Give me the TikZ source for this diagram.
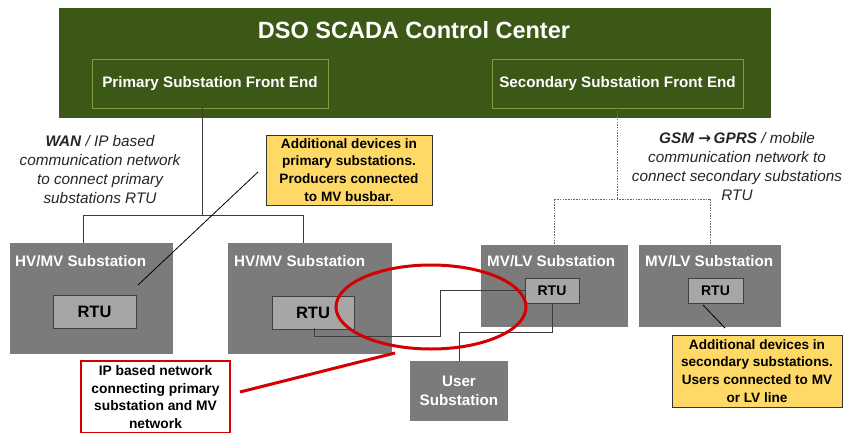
\documentclass[tikz,border=0pt]{standalone}
\usepackage{fontspec}
\setmainfont{Liberation Sans}
\newfontfamily\djv{DejaVu Sans}
\definecolor{cgreen}{RGB}{60,88,22}
\definecolor{cgreenline}{RGB}{120,160,60}
\definecolor{cgray}{RGB}{123,123,123}
\definecolor{crtu}{RGB}{166,166,166}
\definecolor{cyellow}{RGB}{255,217,102}
\definecolor{cred}{RGB}{210,0,0}
\definecolor{cwire}{RGB}{60,60,60}
\begin{document}
\begin{tikzpicture}[x=1pt,y=-1pt,
  box/.style={anchor=north west,inner sep=0pt,outer sep=0pt},
  grn/.style={box,fill=cgreen},
  fe/.style={box,draw=cgreenline,line width=0.8pt},
  fet/.style={text=white,inner sep=0pt,font=\fontsize{15.2}{17}\selectfont\bfseries},
  sub/.style={box,fill=cgray},
  subl/.style={anchor=west,inner sep=0pt,text=white,font=\fontsize{15.2}{17}\selectfont\bfseries},
  rtu/.style={box,fill=crtu,draw=black!75,line width=0.6pt,font=\fontsize{16.5}{18}\selectfont\bfseries},
  srtu/.style={rtu,font=\fontsize{14}{16}\selectfont\bfseries},
  note/.style={box,fill=cyellow,draw=black!80,line width=0.8pt,align=center,font=\fontsize{13.6}{17.8}\selectfont\bfseries},
  ital/.style={align=center,inner sep=0pt,font=\fontsize{15.3}{19}\selectfont\itshape,text=black!85},
  wire/.style={draw=cwire,line width=0.6pt},
  dwire/.style={draw=black!60,line width=0.7pt,dash pattern=on 1.5pt off 1.2pt}
]
\useasboundingbox (0,0) rectangle (845,433);
\fill[white] (0,0) rectangle (845,433);

% control center
\node[grn,minimum width=712pt,minimum height=110pt] (cc) at (59,8) {};
\node[text=white,font=\fontsize{23.5}{26}\selectfont\bfseries] (title) at (414,30) {DSO SCADA Control Center};
\node[fe,minimum width=236pt,minimum height=49pt] (pfe) at (92,59) {};
\node[fet] (pfet) at (pfe.center) {Primary Substation Front End};
\node[fe,minimum width=251pt,minimum height=49pt] (sfe) at (492,59) {};
\node[fet] (sfet) at (sfe.center) {Secondary Substation Front End};

% substations
\node[sub,minimum width=163pt,minimum height=111pt] (hv1) at (10,243) {};
\node[subl] (hv1l) at (15,261) {HV/MV Substation};
\node[rtu,minimum width=83pt,minimum height=33pt] (r1) at (53,295) {RTU};

\node[sub,minimum width=164pt,minimum height=111pt] (hv2) at (228,243) {};
\node[subl] (hv2l) at (234,261) {HV/MV Substation};
\node[rtu,minimum width=82pt,minimum height=33pt] (r2) at (272,296) {RTU};

\node[sub,minimum width=147pt,minimum height=82pt] (mv1) at (481,245) {};
\node[subl] (mv1l) at (487,261) {MV/LV Substation};
\node[srtu,minimum width=54pt,minimum height=25pt] (r3) at (525,278) {RTU};

\node[sub,minimum width=142pt,minimum height=82pt] (mv2) at (639,245) {};
\node[subl] (mv2l) at (645,261) {MV/LV Substation};
\node[srtu,minimum width=55pt,minimum height=25pt] (r4) at (688,278) {RTU};

\node[sub,minimum width=98pt,minimum height=60pt,align=center,text=white,font=\fontsize{15.2}{19}\selectfont\bfseries] (us) at (410,361) {User\\Substation};

% WAN tree
\coordinate (p0) at (202,108);
\coordinate (pj) at (202,215);
\coordinate (pl) at (83,215);
\coordinate (pr) at (303,215);
\draw[wire] (p0) -- (pj);
\draw[wire] (pl) -- (pr);
\draw[wire] (pl) -- (pl |- hv1.north);
\draw[wire] (pr) -- (pr |- hv2.north);

% GSM tree
\coordinate (s0) at (617,108);
\coordinate (sj) at (617,199);
\coordinate (sl) at (mv1.north |- sj);
\coordinate (sr) at (mv2.north |- sj);
\draw[dwire] (s0) -- (sj);
\draw[dwire] (sl) -- (sr);
\draw[dwire] (sl) -- (mv1.north);
\draw[dwire] (sr) -- (mv2.north);

% IP wires
\coordinate (w1) at (314,328);
\draw[wire] (w1) |- (440,336) |- (r3.west);
\coordinate (w2) at (552,303);
\draw[wire] (w2) |- (459,332) -- (us.north);

% texts
\node[ital] (wan) at (100,170) {\textbf{WAN} / IP based\\communication network\\to connect primary\\substations RTU};
\node[ital] (gsm) at (737,167) {\textbf{GSM {\djv\bfseries→}\,GPRS} / mobile\\communication network to\\connect secondary substations\\RTU};

% notes
\node[note,minimum width=166pt,minimum height=70pt] (n1) at (266,135) {Additional devices in\\primary substations.\\Producers connected\\to MV busbar.};
\coordinate (n1a) at (258,172);
\coordinate (r1a) at (138,285);
\draw[line width=0.8pt] (n1a) -- (r1a);

\node[note,minimum width=170pt,minimum height=72pt] (n2) at (672,335) {Additional devices in\\secondary substations.\\Users connected to MV\\or LV line};
\coordinate (r4a) at (703,305);
\coordinate (n2a) at (725,328);
\draw[line width=0.8pt] (r4a) -- (n2a);

% red annotation
\draw[cred,line width=3pt] (431,307) ellipse (95pt and 42pt);
\node[box,draw=cred,line width=2.2pt,fill=white,minimum width=149pt,minimum height=72pt,align=center,font=\fontsize{13.8}{17.7}\selectfont\bfseries] (rb) at (81,361) {IP based network\\connecting primary\\substation and MV\\network};
\coordinate (ra) at (240,392);
\coordinate (rbend) at (395,353);
\draw[cred,line width=3pt] (ra) -- (rbend);
\end{tikzpicture}
\end{document}
